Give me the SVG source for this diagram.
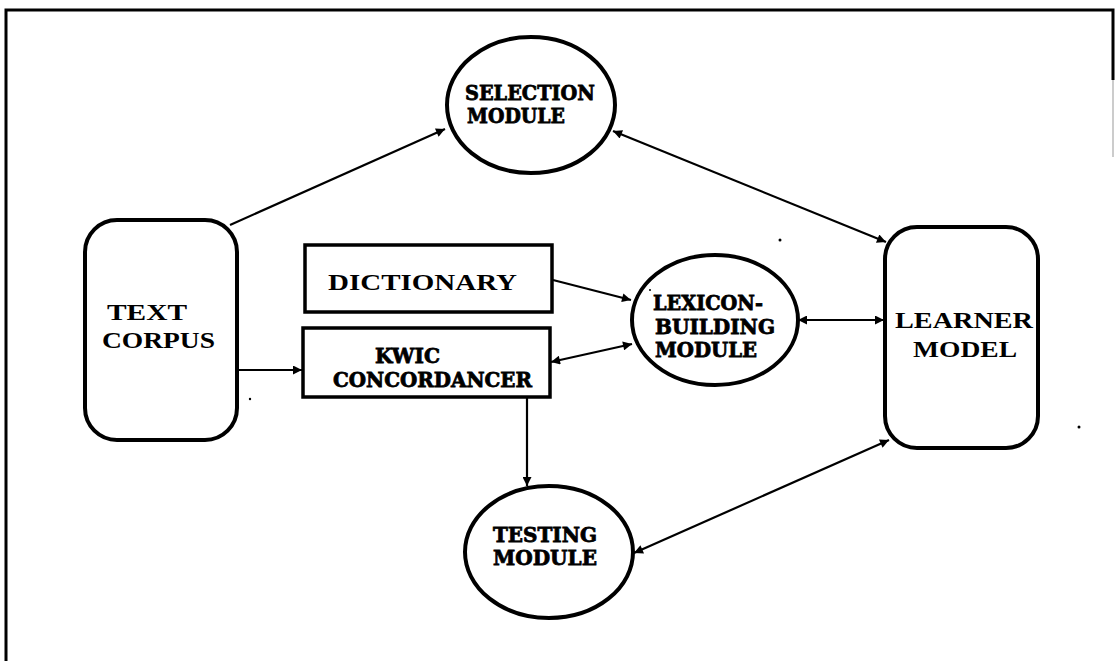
<svg xmlns="http://www.w3.org/2000/svg" width="1115" height="661" viewBox="0 0 1115 661">
<style>
.bg{fill:#fff}
.node{fill:#fff;stroke:#000;stroke-width:4}
.box{fill:#fff;stroke:#000;stroke-width:3.5}
.edge{fill:none;stroke:#000;stroke-width:2.2}
.t1{font-family:"Liberation Serif",serif;font-weight:bold;font-size:23px;fill:#000}
.t2{font-family:"DejaVu Serif","Liberation Serif",serif;font-weight:900;font-size:21px;fill:#000;stroke:#000;stroke-width:0.8}
.dot{fill:#000}
</style>
<defs>
<marker id="ah" viewBox="0 0 10 10" refX="10" refY="5" markerWidth="11" markerHeight="9" markerUnits="userSpaceOnUse" orient="auto-start-reverse">
<path d="M0,0 L10,5 L0,10 z" fill="#000"/>
</marker>
</defs>
<rect class="bg" x="0" y="0" width="1115" height="661"/>
<g id="frame">
<path d="M6,661 L6,10 L1113,10 L1113,80" fill="none" stroke="#000" stroke-width="3"/>
<line x1="1113" y1="80" x2="1113" y2="157" stroke="#ccc" stroke-width="2"/>
</g>
<g id="connectors">
<path class="edge" d="M230,225 L445,129" marker-end="url(#ah)"/>
<path class="edge" d="M613,131 L886,242" marker-start="url(#ah)" marker-end="url(#ah)"/>
<path class="edge" d="M237,370 L302,370" marker-end="url(#ah)"/>
<path class="edge" d="M553,280 L631,300" marker-end="url(#ah)"/>
<path class="edge" d="M551,362 L632,344" marker-start="url(#ah)" marker-end="url(#ah)"/>
<path class="edge" d="M527,397 L527,486" marker-end="url(#ah)"/>
<path class="edge" d="M798,320 L884,320" marker-start="url(#ah)" marker-end="url(#ah)"/>
<path class="edge" d="M634,553 L889,440" marker-start="url(#ah)" marker-end="url(#ah)"/>
</g>
<g id="selection-module">
<ellipse class="node" cx="531" cy="105" rx="84" ry="68"/>
<text class="t2" x="465" y="100" textLength="130" lengthAdjust="spacingAndGlyphs">SELECTION</text>
<text class="t2" x="467" y="123" textLength="98" lengthAdjust="spacingAndGlyphs">MODULE</text>
</g>
<g id="text-corpus">
<rect class="node" x="85" y="220" width="152" height="220" rx="32" ry="32"/>
<text class="t1" x="107" y="320" textLength="80" lengthAdjust="spacingAndGlyphs">TEXT</text>
<text class="t1" x="102" y="348" textLength="113" lengthAdjust="spacingAndGlyphs">CORPUS</text>
</g>
<g id="dictionary">
<rect class="box" x="305" y="245" width="247" height="67"/>
<text class="t1" x="328" y="290" textLength="189" lengthAdjust="spacingAndGlyphs">DICTIONARY</text>
</g>
<g id="kwic-concordancer">
<rect class="box" x="303" y="328" width="247" height="69"/>
<text class="t2" x="375" y="363" textLength="65" lengthAdjust="spacingAndGlyphs">KWIC</text>
<text class="t2" x="333" y="387" textLength="199" lengthAdjust="spacingAndGlyphs">CONCORDANCER</text>
</g>
<g id="lexicon-building-module">
<ellipse class="node" cx="715" cy="320" rx="83" ry="65"/>
<text class="t2" x="653" y="310" textLength="110" lengthAdjust="spacingAndGlyphs">LEXICON-</text>
<text class="t2" x="655" y="334" textLength="120" lengthAdjust="spacingAndGlyphs">BUILDING</text>
<text class="t2" x="655" y="357" textLength="102" lengthAdjust="spacingAndGlyphs">MODULE</text>
</g>
<g id="testing-module">
<ellipse class="node" cx="549" cy="552" rx="84" ry="66"/>
<text class="t2" x="493" y="542" textLength="104" lengthAdjust="spacingAndGlyphs">TESTING</text>
<text class="t2" x="493" y="565" textLength="104" lengthAdjust="spacingAndGlyphs">MODULE</text>
</g>
<g id="learner-model">
<rect class="node" x="885" y="227" width="153" height="221" rx="32" ry="32"/>
<text class="t1" x="895" y="328" textLength="138" lengthAdjust="spacingAndGlyphs">LEARNER</text>
<text class="t1" x="913" y="357" textLength="104" lengthAdjust="spacingAndGlyphs">MODEL</text>
</g>
<g id="specks">
<circle class="dot" cx="780" cy="240" r="1.5"/>
<circle class="dot" cx="1079" cy="427" r="1.5"/>
<circle class="dot" cx="250" cy="399" r="1.2"/>
<circle class="dot" cx="650" cy="290" r="1"/>
</g>
</svg>
